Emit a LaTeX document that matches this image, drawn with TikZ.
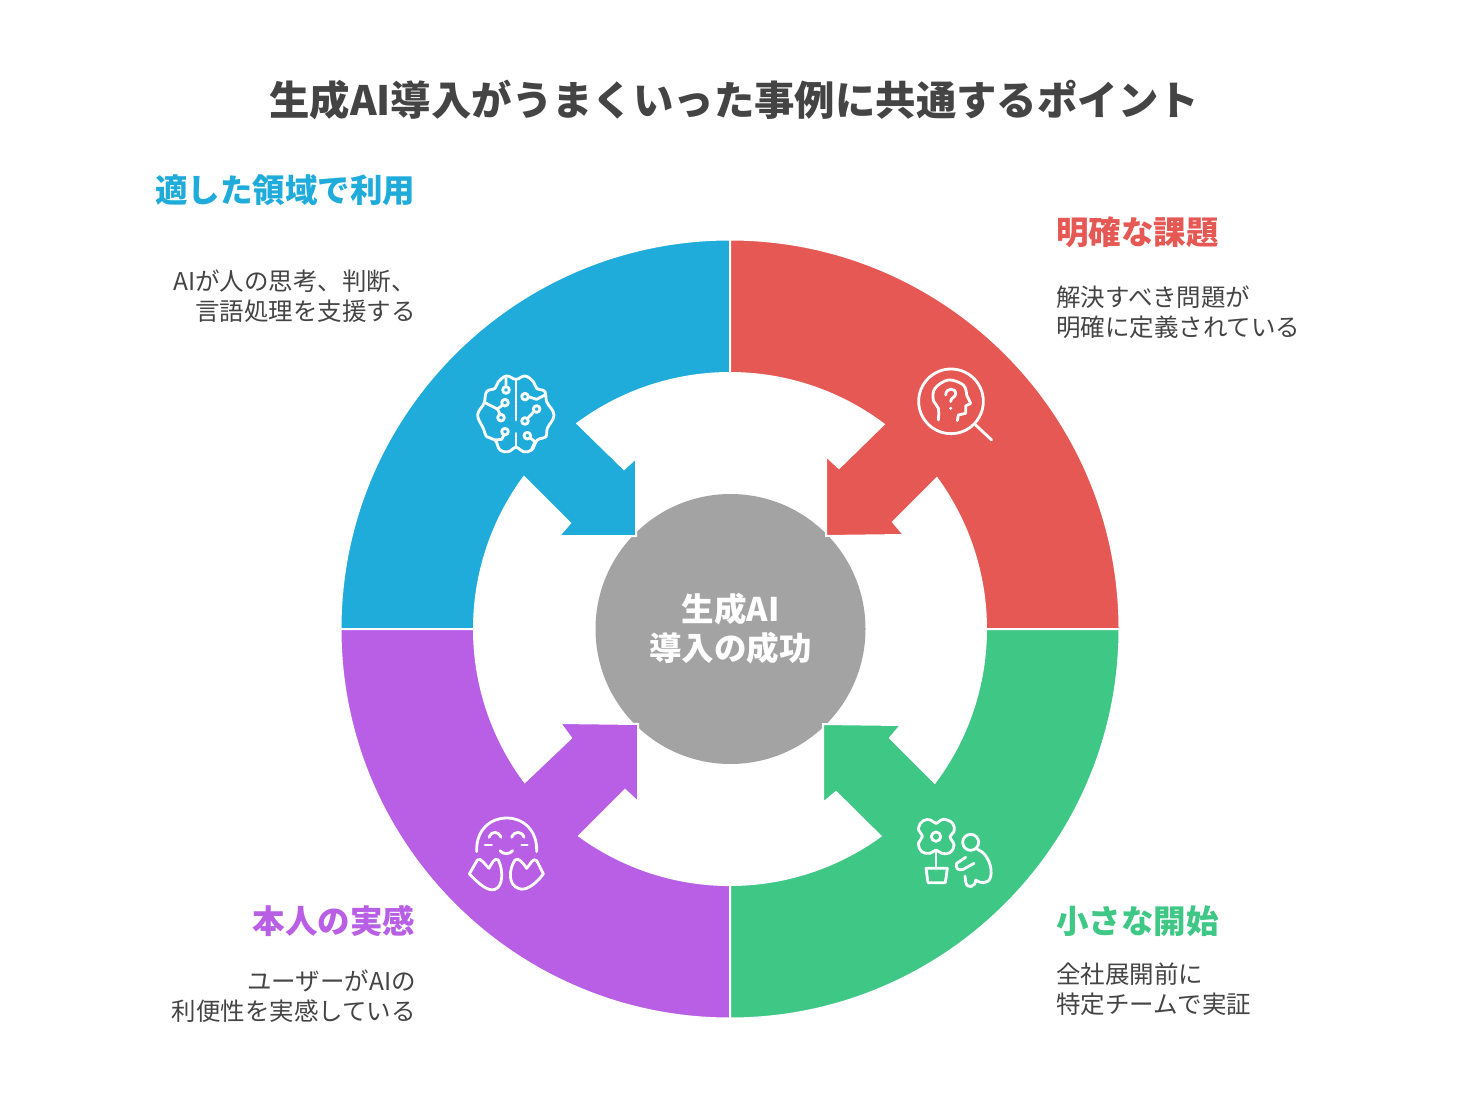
\documentclass[tikz,border=0pt]{standalone}
\usepackage{fontspec}
\setmainfont{Noto Sans CJK JP}
\usepackage{xcolor}
\definecolor{areablue}{RGB}{31, 172, 219}
\definecolor{areared}{RGB}{229, 88, 83}
\definecolor{areapurple}{RGB}{184, 95, 229}
\definecolor{areagreen}{RGB}{62, 199, 133}
\definecolor{hubgrey}{RGB}{163, 163, 163}
\definecolor{textgrey}{RGB}{68, 68, 68}
\tikzset{
  quadrant/.style={draw=white, line width=2pt, line join=miter},
  headline/.style={font=\fontsize{32.5}{38}\selectfont\bfseries, inner sep=0pt},
  bodytext/.style={font=\fontsize{24.5}{30}\selectfont, text=textgrey, inner sep=0pt},
  iconline/.style={draw=white, line width=2.8pt, line cap=round, line join=round}
}

\begin{document}
\begin{tikzpicture}[x=1pt, y=-1pt]
\useasboundingbox (0,0) rectangle (1470,1102);

\node[font=\fontsize{40.4}{46}\selectfont\bfseries, text=textgrey, inner sep=0pt] (title) at (734,100) {生成AI導入がうまくいった事例に共通するポイント};

% centre
\node[circle, fill=hubgrey, text=white, minimum size=270pt, inner sep=0pt, align=center, font=\fontsize{32.5}{39}\selectfont\bfseries] (hub) at (730.5,629) {生成AI\\導入の成功};

% quadrants
\path[quadrant, fill=areablue] (730,239.5) arc[start angle=270, end angle=180, radius=389.5] -- (474,629) arc[start angle=180, end angle=216.4, radius=256] -- (570,523) -- (559,536) -- (636,536) -- (636,458) -- (624,469) -- (577.4,423.5) arc[start angle=233.4, end angle=270, radius=256] -- cycle;
\path[quadrant, fill=areared] (730,239.5) arc[start angle=270, end angle=360, radius=389.5] -- (986,629) arc[start angle=0, end angle=-36.1, radius=256] -- (893,522) -- (904,535) -- (826,536) -- (826,456) -- (839,468) -- (883.7,424.3) arc[start angle=-53.1, end angle=-90, radius=256] -- cycle;
\path[quadrant, fill=areapurple] (730,1018.5) arc[start angle=90, end angle=180, radius=389.5] -- (474,629) arc[start angle=180, end angle=143.3, radius=256] -- (571,738) -- (560,723) -- (638,724) -- (638,802) -- (625,790) -- (579.2,835.9) arc[start angle=126.1, end angle=90, radius=256] -- cycle;
\path[quadrant, fill=areagreen] (730,1018.5) arc[start angle=90, end angle=0, radius=389.5] -- (986,629) arc[start angle=0, end angle=36.9, radius=256] -- (890,738) -- (901,725) -- (823,724) -- (823,803) -- (836,792) -- (880.5,836.1) arc[start angle=54, end angle=90, radius=256] -- cycle;

% labels
\node[headline, text=areablue, anchor=east] (bluehead) at (415.5,190) {適した領域で利用};
\node[bodytext, anchor=north east, align=right] (bluebody) at (416,269.5) {AIが人の思考、判断、\\言語処理を支援する};
\node[headline, text=areared, anchor=west] (redhead) at (1056,232) {明確な課題};
\node[bodytext, anchor=north west, align=left] (redbody) at (1056,285.5) {解決すべき問題が\\明確に定義されている};
\node[headline, text=areapurple, anchor=east] (purplehead) at (415.5,921) {本人の実感};
\node[bodytext, anchor=north east, align=right] (purplebody) at (416,969.5) {ユーザーがAIの\\利便性を実感している};
\node[headline, text=areagreen, anchor=west] (greenhead) at (1056,921) {小さな開始};
\node[bodytext, anchor=north west, align=left] (greenbody) at (1056,962.5) {全社展開前に\\特定チームで実証};

% brain icon
\begin{scope}[shift={(440,340)}, scale=1/3, iconline]
\draw plot[smooth cycle, tension=0.7] coordinates {(228,118) (200,108) (175,125) (165,145) (140,155) (132,190) (113,225) (130,265) (140,290) (165,300) (180,330) (205,335) (228,322) (250,335) (275,330) (292,300) (318,290) (322,265) (342,225) (320,185) (315,155) (290,145) (280,125) (255,108)};
\draw (228,118) -- (228,240) (228,280) -- (228,322);
\draw (198,150) circle[radius=10] (198,140) -- (198,115);
\draw (195,188) circle[radius=10] (188,195) -- (172,207) -- (135,188);
\draw (183,233) circle[radius=10] (180,223) -- (172,207);
\draw (255,170) circle[radius=10] (265,170) -- (290,178) -- (315,165);
\draw (290,207) circle[radius=10] (283,214) -- (263,235);
\draw (255,243) circle[radius=10];
\draw (195,275) circle[radius=10] (192,285) -- (185,298) -- (165,300);
\draw (262,287) circle[radius=10] (270,293) -- (285,305) -- (275,328);
\end{scope}

% head icon
\begin{scope}[shift={(800,350)}, scale=1/3, iconline]
\draw (453,154) circle[radius=97];
\draw (527,225) -- (575,270);
\draw plot[smooth, tension=0.6] coordinates {(415,210) (415,175) (400,150) (405,115) (445,90) (490,105) (500,135)} -- (512,160) -- (497,168) -- (497,190) -- (475,195) -- (472,212);
\draw (437,135) .. controls (438,112) and (468,112) .. (467,132) .. controls (466,143) and (452,142) .. (452,155);
\fill[white] (452,175) circle[radius=5];
\end{scope}

% smile icon
\begin{scope}[shift={(440,710)}, scale=1/3, iconline]
\draw (110,425) .. controls (105,290) and (295,290) .. (290,425);
\draw (147,382) .. controls (155,362) and (175,362) .. (183,382);
\draw (215,382) .. controls (223,362) and (245,362) .. (252,382);
\draw (135,405) -- (155,405) (245,405) -- (262,405);
\draw (180,422) .. controls (190,434) and (208,434) .. (218,422);
\draw (88,492) -- (112,450) .. controls (122,440) and (135,465) .. (147,475) .. controls (155,460) and (165,440) .. (175,450) .. controls (190,480) and (190,530) .. (165,538) .. controls (145,545) and (120,525) .. (88,492) -- cycle;
\draw (310,492) -- (290,452) .. controls (280,440) and (270,465) .. (260,475) .. controls (250,460) and (235,440) .. (225,450) .. controls (205,480) and (205,525) .. (235,535) .. controls (255,545) and (285,525) .. (310,492) -- cycle;
\end{scope}

% plant icon
\begin{scope}[shift={(800,710)}, scale=1/3, iconline]
\draw (408,380) circle[radius=14];
\draw plot[smooth cycle, tension=0.7] coordinates {(408,340) (430,328) (458,340) (462,365) (450,380) (462,405) (450,428) (425,430) (408,420) (390,430) (365,425) (355,400) (367,380) (355,355) (370,332) (392,330)};
\draw (408,425) -- (408,475);
\draw (378,475) -- (442,475) -- (436,518) -- (384,518) -- cycle;
\draw (512,397) circle[radius=24];
\draw (532,418) .. controls (565,430) and (578,475) .. (572,500) .. controls (565,525) and (540,520) .. (527,510) .. controls (528,530) and (500,540) .. (497,515) -- (495,498);
\draw (497,442) -- (470,460) .. controls (465,475) and (475,483) .. (490,478) -- (522,460);
\end{scope}
\end{tikzpicture}
\end{document}
